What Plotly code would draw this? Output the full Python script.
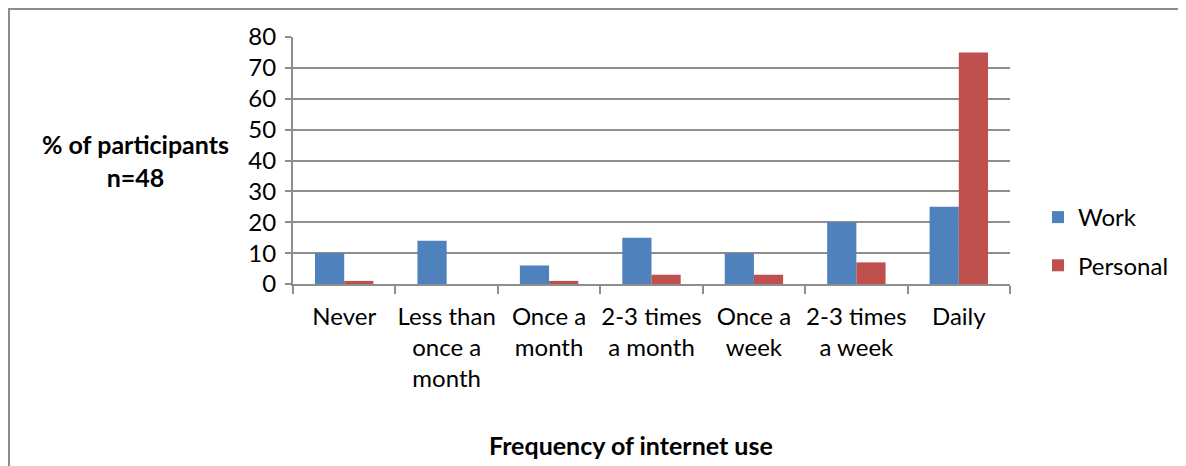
import plotly.graph_objects as go

categories = ["Never", "Less than<br>once a<br>month", "Once a<br>month", "2-3 times<br>a month",
              "Once a<br>week", "2-3 times<br>a week", "Daily"]
work = [10, 14, 6, 15, 10, 20, 25]
personal = [1, 0, 1, 3, 3, 7, 75]
y_ticks = [0, 10, 20, 30, 40, 50, 60, 70, 80]

OFF = 8  # page body margin
W, H = 1186 - OFF, 466 - OFF
# plot area in page pixels: x 293..1010, y 37..284
L, T = 293 - OFF, 37 - OFF
R, B = W - (1010 - OFF), H - (284 - OFF)
pw, ph = W - L - R, H - T - B

FONT = "Lato, Open Sans, sans-serif"
GRID = "#8e8e8e"
FS = 24
FT = 25

fig = go.Figure()
fig.add_trace(go.Bar(name="Work", x=categories, y=work, legendgroup="w",
                     marker=dict(color="#4F81BD", line=dict(width=0))))
fig.add_trace(go.Bar(name="Personal", x=categories, y=personal, legendgroup="p",
                     marker=dict(color="#C0504D", line=dict(width=0))))

def px_x(p):
    # page pixel -> paper coordinate
    return (p - OFF - L) / pw

def px_y(p):
    return 1 - (p - OFF - T) / ph

fig.update_layout(
    width=W, height=H,
    margin=dict(l=L, r=R, t=T, b=B, autoexpand=False),
    paper_bgcolor="white", plot_bgcolor="white",
    barmode="group", bargap=0.43, bargroupgap=0,
    font=dict(family=FONT, size=FS, color="black"),
    xaxis=dict(showline=True, linecolor=GRID, linewidth=2, ticks="outside", ticklen=8,
               tickcolor=GRID, tickwidth=2, tickson="boundaries", showgrid=False,
               tickfont=dict(size=FS), tickangle=0, automargin=False, ticklabelstandoff=10),
    yaxis=dict(range=[0, 80], tickvals=y_ticks, showline=True, linecolor=GRID, linewidth=2,
               ticks="outside", ticklen=6, tickcolor=GRID, tickwidth=2,
               showgrid=True, gridcolor=GRID, gridwidth=2, zeroline=False,
               tickfont=dict(size=FS), ticklabelstandoff=4, automargin=False),
    legend=dict(x=px_x(1038), y=px_y(195), xanchor="left", yanchor="top",
                font=dict(size=FS), itemsizing="constant", traceorder="grouped",
                tracegroupgap=14, bgcolor="rgba(0,0,0,0)"),
    showlegend=True,
    shapes=[dict(type="rect", xref="paper", yref="paper",
                 x0=px_x(OFF + 1), x1=px_x(1300), y0=px_y(600), y1=px_y(OFF + 1),
                 line=dict(color="#8c8c8c", width=2), fillcolor="rgba(0,0,0,0)", layer="below")],
    annotations=[
        dict(text="<b>% of participants<br>n=48</b>", xref="paper", yref="paper",
             x=px_x(135), y=px_y(160), xanchor="center", yanchor="middle",
             showarrow=False, font=dict(size=FT), align="center"),
        dict(text="<b>Frequency of internet use</b>", xref="paper", yref="paper",
             x=px_x(631), y=px_y(445), xanchor="center", yanchor="middle",
             showarrow=False, font=dict(size=FT)),
    ],
)

fig.write_html("out.html")
